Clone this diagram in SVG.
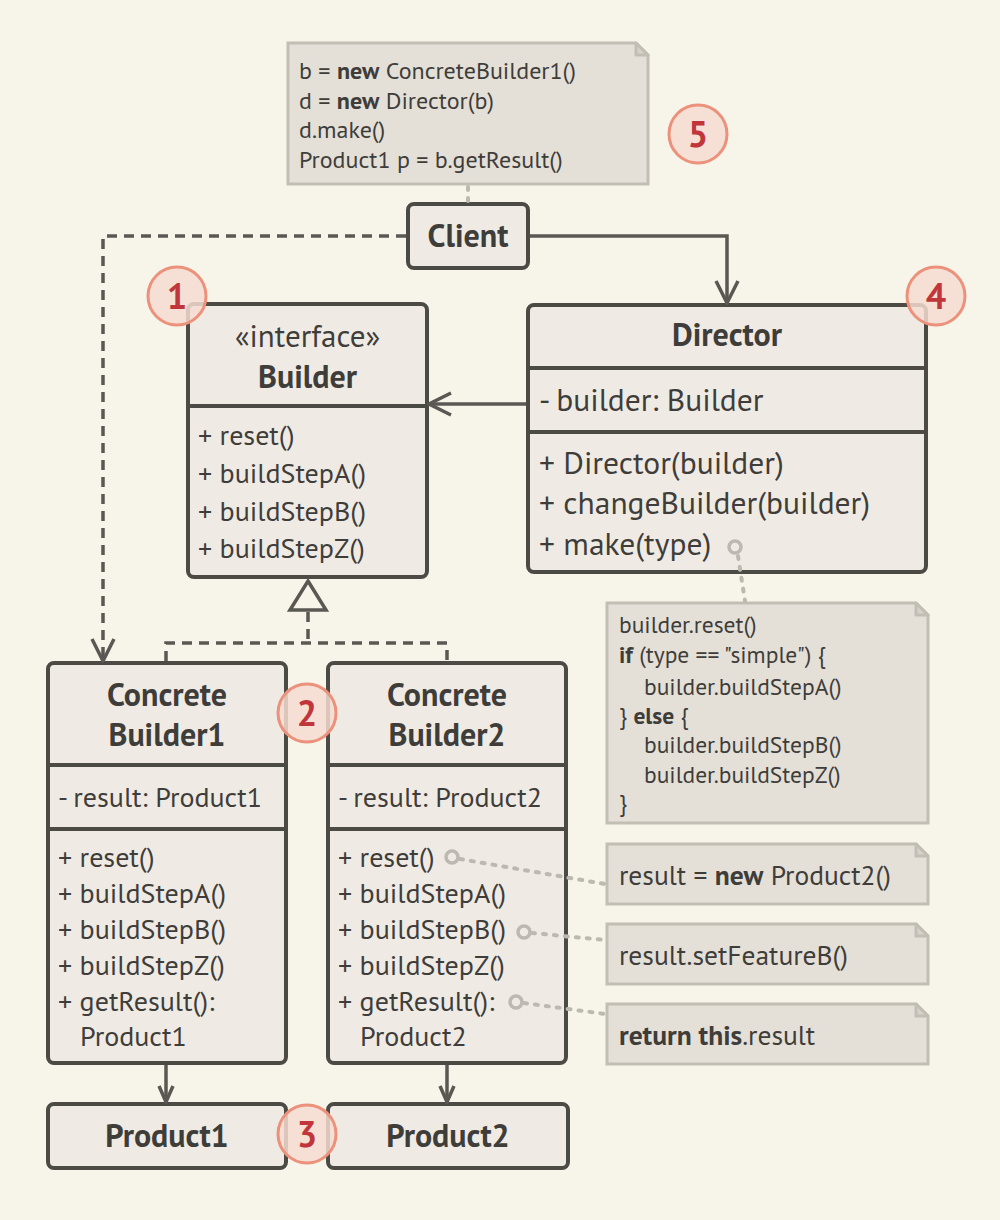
<svg xmlns="http://www.w3.org/2000/svg" width="1000" height="1220" viewBox="0 0 1000 1220">
<defs>
<style>
text{font-family:"PT Sans",Roboto,"Noto Sans",sans-serif;fill:#3f3d3a}
.box{fill:#efebe4;stroke:#4b4a45;stroke-width:4}
.div{stroke:#4b4a45;stroke-width:4}
.note{fill:#e4e0d8;stroke:#c2beb4;stroke-width:3}
.fold{fill:#d6d2c9;stroke:#c2beb4;stroke-width:3;stroke-linejoin:round}
.t{font-size:28px}
.tl{font-size:31.5px}
.b{font-weight:bold}
.h{font-size:32px;font-weight:bold;text-anchor:middle}
.n{font-size:24px}
.nn{font-size:23.5px}
.nr{font-size:27.5px}
.ln{fill:none;stroke:#5a5853;stroke-width:3.5}
.dash{stroke-dasharray:10 7}
.dot{fill:none;stroke:#bdb9b0;stroke-width:4;stroke-dasharray:3 8;stroke-linecap:round}
.pin{fill:none;stroke:#bdb9b0;stroke-width:3.5}
.num{fill:#f6dcd1;fill-opacity:0.85;stroke:#ec917b;stroke-width:3}
.numt{font-size:36px;font-weight:bold;fill:#c0363a;text-anchor:middle}
</style>
<marker id="open" viewBox="0 0 26 26" refX="24" refY="13" markerWidth="26" markerHeight="26" orient="auto" markerUnits="userSpaceOnUse">
<path d="M2,2 L24,13 L2,24" fill="none" stroke="#5a5853" stroke-width="3.5"/>
</marker>
<marker id="small" viewBox="0 0 20 20" refX="18" refY="10" markerWidth="20" markerHeight="20" orient="auto" markerUnits="userSpaceOnUse">
<path d="M2,3 L18,10 L2,17" fill="none" stroke="#5a5853" stroke-width="3.5"/>
</marker>
</defs>
<rect width="1000" height="1220" fill="#f7f4ea"/>

<g id="note-client">
<path class="note" d="M288,43 H636 L648,55 V184 H288 Z"/>
<path class="fold" d="M636,43 V55 H648 Z"/>
<text class="n" x="299" y="78.5">b = <tspan class="b">new</tspan> ConcreteBuilder1()</text>
<text class="n" x="299" y="108.5">d = <tspan class="b">new</tspan> Director(b)</text>
<text class="n" x="299" y="138">d.make()</text>
<text class="n" x="299" y="168">Product1 p = b.getResult()</text>
</g>

<g id="client">
<rect class="box" x="408" y="204" width="120" height="64" rx="6"/>
<text class="h" x="468" y="247">Client</text>
</g>

<g id="builder">
<rect class="box" x="188" y="304" width="239" height="273" rx="6"/>
<line class="div" x1="188" y1="406" x2="427" y2="406"/>
<text x="307.5" y="347" font-size="31" text-anchor="middle">«interface»</text>
<text class="h" x="307.5" y="388">Builder</text>
<text class="t" x="198" y="445">+ reset()</text>
<text class="t" x="198" y="483">+ buildStepA()</text>
<text class="t" x="198" y="521">+ buildStepB()</text>
<text class="t" x="198" y="558">+ buildStepZ()</text>
</g>

<g id="director">
<rect class="box" x="528" y="305" width="398" height="267" rx="6"/>
<line class="div" x1="528" y1="368" x2="926" y2="368"/>
<line class="div" x1="528" y1="432" x2="926" y2="432"/>
<text class="h" x="727" y="346">Director</text>
<text class="tl" x="539" y="411">- builder: Builder</text>
<text class="tl" x="539" y="474">+ Director(builder)</text>
<text class="tl" x="539" y="514">+ changeBuilder(builder)</text>
<text class="tl" x="539" y="555">+ make(type)</text>
<circle class="pin" cx="735" cy="547" r="6"/>
</g>

<g id="note-director">
<path class="note" d="M607,603 H916 L928,615 V823 H607 Z"/>
<path class="fold" d="M916,603 V615 H928 Z"/>
<text class="nn" x="619" y="633">builder.reset()</text>
<text class="nn" x="619" y="663"><tspan class="b">if</tspan> (type == "simple") {</text>
<text class="nn" x="644" y="695">builder.buildStepA()</text>
<text class="nn" x="619" y="724">} <tspan class="b">else</tspan> {</text>
<text class="nn" x="644" y="753">builder.buildStepB()</text>
<text class="nn" x="644" y="783">builder.buildStepZ()</text>
<text class="nn" x="619" y="811">}</text>
</g>

<g id="concrete-builder1">
<rect class="box" x="48" y="663" width="238" height="400" rx="6"/>
<line class="div" x1="48" y1="765" x2="286" y2="765"/>
<line class="div" x1="48" y1="829" x2="286" y2="829"/>
<text class="h" x="167" y="706">Concrete</text>
<text class="h" x="167" y="746">Builder1</text>
<text class="t" x="58" y="807">- result: Product1</text>
<text class="t" x="58" y="867">+ reset()</text>
<text class="t" x="58" y="903">+ buildStepA()</text>
<text class="t" x="58" y="939">+ buildStepB()</text>
<text class="t" x="58" y="975">+ buildStepZ()</text>
<text class="t" x="58" y="1011">+ getResult():</text>
<text class="t" x="80" y="1046">Product1</text>
</g>

<g id="concrete-builder2">
<rect class="box" x="328" y="663" width="238" height="400" rx="6"/>
<line class="div" x1="328" y1="765" x2="566" y2="765"/>
<line class="div" x1="328" y1="829" x2="566" y2="829"/>
<text class="h" x="447" y="706">Concrete</text>
<text class="h" x="447" y="746">Builder2</text>
<text class="t" x="338" y="807">- result: Product2</text>
<text class="t" x="338" y="867">+ reset()</text>
<text class="t" x="338" y="903">+ buildStepA()</text>
<text class="t" x="338" y="939">+ buildStepB()</text>
<text class="t" x="338" y="975">+ buildStepZ()</text>
<text class="t" x="338" y="1011">+ getResult():</text>
<text class="t" x="360" y="1046">Product2</text>
<circle class="pin" cx="452" cy="857" r="6"/>
<circle class="pin" cx="524" cy="932" r="6"/>
<circle class="pin" cx="516" cy="1002" r="6"/>
</g>

<g id="note-reset">
<path class="note" d="M607,844 H916 L928,856 V904 H607 Z"/>
<path class="fold" d="M916,844 V856 H928 Z"/>
<text class="nr" x="619" y="885">result = <tspan class="b">new</tspan> Product2()</text>
</g>
<g id="note-stepb">
<path class="note" d="M607,924 H916 L928,936 V984 H607 Z"/>
<path class="fold" d="M916,924 V936 H928 Z"/>
<text class="nr" x="619" y="965">result.setFeatureB()</text>
</g>
<g id="note-result">
<path class="note" d="M607,1004 H916 L928,1016 V1064 H607 Z"/>
<path class="fold" d="M916,1004 V1016 H928 Z"/>
<text class="nr" x="619" y="1045"><tspan class="b">return this</tspan>.result</text>
</g>

<g id="product1">
<rect class="box" x="48" y="1104" width="238" height="64" rx="6"/>
<text class="h" x="167" y="1147">Product1</text>
</g>
<g id="product2">
<rect class="box" x="328" y="1104" width="240" height="64" rx="6"/>
<text class="h" x="448" y="1147">Product2</text>
</g>

<g id="connectors">
<path class="dot" d="M468,187 V201"/>
<path class="ln dash" d="M406,236 H103 V661" marker-end="url(#open)"/>
<path class="ln" d="M530,236 H727 V303" marker-end="url(#open)"/>
<path class="ln" d="M526,404 H429" marker-end="url(#open)"/>
<path class="ln dash" d="M308,612 V643 M166,661 V643 H447 V661"/>
<polygon points="308,581 326,610 290,610" fill="#f7f4ea" stroke="#5a5853" stroke-width="3.5" stroke-linejoin="miter"/>
<path class="ln" d="M166,1065 V1102" marker-end="url(#small)"/>
<path class="ln" d="M447,1065 V1102" marker-end="url(#small)"/>
<path class="dot" d="M738,556 L745,601"/>
<path class="dot" d="M460,859 L605,884"/>
<path class="dot" d="M532,933 L605,940"/>
<path class="dot" d="M524,1003 L605,1014"/>
</g>

<g id="badges">
<circle class="num" cx="177" cy="296" r="29"/><text class="numt" x="177" y="309">1</text>
<circle class="num" cx="307" cy="713" r="29"/><text class="numt" x="307" y="726">2</text>
<circle class="num" cx="307" cy="1134" r="29"/><text class="numt" x="307" y="1147">3</text>
<circle class="num" cx="936" cy="296" r="29"/><text class="numt" x="936" y="309">4</text>
<circle class="num" cx="698" cy="134" r="29"/><text class="numt" x="698" y="147">5</text>
</g>
</svg>
